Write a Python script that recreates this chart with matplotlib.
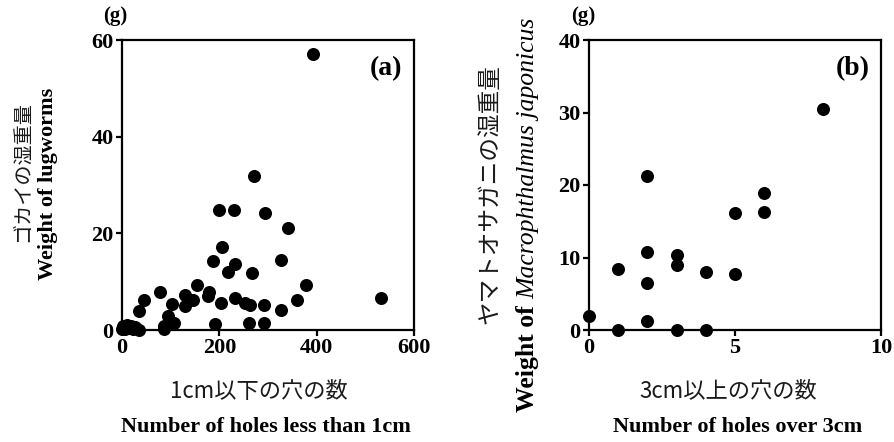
import matplotlib
matplotlib.use("Agg")
import numpy as np
from matplotlib import pyplot as plt

# (a) lugworms vs small holes
holes_small = [0, 3, 6, 10, 14, 18, 22, 27, 35, 34, 46, 79, 86, 86, 94, 103, 106,
               130, 130, 145, 154, 177, 179, 188, 191, 200, 204, 206, 218, 230,
               233, 233, 253, 261, 262, 268, 271, 291, 291, 293, 327, 327, 342,
               360, 378, 393, 533]
w_lug = [0.3, 0.8, 0.2, 1.0, 0.5, 0.9, 0.3, 0.6, 0.1, 4.0, 6.3, 7.8, 0.9, 0.2,
         2.8, 5.4, 1.5, 7.2, 5.0, 6.3, 9.4, 7.0, 7.8, 14.3, 1.2, 24.8, 5.5, 17.2,
         12.1, 24.8, 13.6, 6.7, 5.5, 1.5, 5.2, 11.7, 31.9, 5.2, 1.5, 24.3, 14.5,
         4.1, 21.2, 6.3, 9.3, 57.2, 6.7]

# (b) crabs vs large holes
holes_large = [0, 1, 1, 2, 2, 2, 2, 3, 3, 3, 4, 4, 5, 5, 6, 6, 8]
w_crab = [2.0, 8.4, 0, 21.2, 10.8, 6.5, 1.3, 10.3, 8.9, 0, 8.0, 0, 16.2, 7.7,
          18.9, 16.3, 30.5]

xt_a = [0, 200, 400, 600]
yt_a = [0, 20, 40, 60]
xt_b = [0, 5, 10]
yt_b = [0, 10, 20, 30, 40]

SERIF = 'Liberation Serif'
JP = ['Noto Sans CJK JP', 'DejaVu Sans']

W, H = 895, 442
fig = plt.figure(figsize=(W / 100, H / 100), dpi=100)


def px(x, y):
    return x / W, 1 - y / H


def setup(ax, xt, yt):
    ax.set_xlim(xt[0], xt[-1])
    ax.set_ylim(yt[0], yt[-1])
    ax.set_xticks(xt)
    ax.set_yticks(yt)
    for s in ax.spines.values():
        s.set_linewidth(1.6)
    ax.tick_params(direction='out', length=4, width=1.6, pad=2)
    for lab in ax.get_xticklabels() + ax.get_yticklabels():
        lab.set_fontfamily(SERIF)
        lab.set_fontweight('bold')
        lab.set_fontsize(16)


ax1 = fig.add_axes([122 / W, 1 - 330 / H, 292 / W, 290 / H])
ax1.scatter(holes_small, w_lug, s=70, c='black', clip_on=False, zorder=3)
setup(ax1, xt_a, yt_a)
ax1.text(0.96, 0.9, '(a)', transform=ax1.transAxes, ha='right', va='center',
         fontfamily=SERIF, fontweight='bold', fontsize=20)

ax2 = fig.add_axes([589 / W, 1 - 330 / H, 292 / W, 290 / H])
ax2.scatter(holes_large, w_crab, s=70, c='black', clip_on=False, zorder=3)
setup(ax2, xt_b, yt_b)
ax2.text(0.96, 0.9, '(b)', transform=ax2.transAxes, ha='right', va='center',
         fontfamily=SERIF, fontweight='bold', fontsize=20)

# units
fig.text(*px(115, 16), '(g)', ha='center', va='center', fontfamily=SERIF,
         fontweight='bold', fontsize=15)
fig.text(*px(583, 16), '(g)', ha='center', va='center', fontfamily=SERIF,
         fontweight='bold', fontsize=15)

# y labels
fig.text(*px(23, 172), 'ゴカイの湿重量', rotation=90, ha='center', va='center',
         family=JP, fontsize=14.5, color='#1a1a1a')
fig.text(*px(48, 184), 'Weight of lugworms', rotation=90, ha='center', va='center',
         fontfamily=SERIF, fontweight='bold', fontsize=16)
fig.text(*px(490, 194), 'ヤマトオサガニの湿重量', rotation=90, ha='center', va='center',
         family=JP, fontsize=17, color='#1a1a1a')
fig.text(*px(534, 299), 'Weight of ', rotation=90, rotation_mode='anchor',
         ha='right', va='baseline', fontfamily=SERIF, fontweight='bold', fontsize=18.5)
fig.text(*px(534, 299), 'Macrophthalmus japonicus', rotation=90, rotation_mode='anchor',
         ha='left', va='baseline', fontfamily=SERIF, fontstyle='italic', fontsize=18.5)

# x labels
fig.text(*px(259, 391), '1cm以下の穴の数', ha='center', va='center',
         family=JP, fontsize=16, color='#1a1a1a')
fig.text(*px(266, 427), 'Number of holes less than 1cm', ha='center', va='center',
         fontfamily=SERIF, fontweight='bold', fontsize=16)
fig.text(*px(728, 391), '3cm以上の穴の数', ha='center', va='center',
         family=JP, fontsize=16, color='#1a1a1a')
fig.text(*px(738, 427), 'Number of holes over 3cm', ha='center', va='center',
         fontfamily=SERIF, fontweight='bold', fontsize=16)

fig.savefig('out.png', dpi=100)
